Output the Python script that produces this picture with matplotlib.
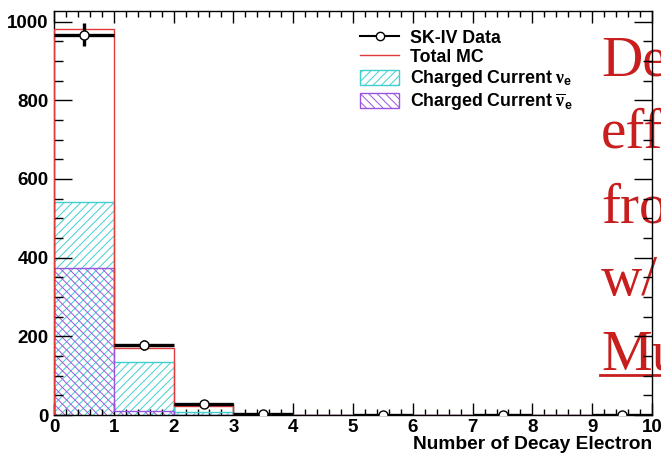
import numpy as np
import matplotlib
matplotlib.use("Agg")
import matplotlib.pyplot as plt
from matplotlib.lines import Line2D
from matplotlib.patches import Patch
from matplotlib.ticker import MultipleLocator

# ---- data ----
edges = [0, 1, 2, 3, 4, 5, 6, 7, 8, 9, 10]
data = [967, 178, 27, 3, np.nan, 0, np.nan, 0, np.nan, 0]
data_err = [30, 13, 5, 2, np.nan, 0, np.nan, 0, np.nan, 0]
total_mc = [982, 170, 23, 2, 0.6, 0.4, 0.3, 0.2, 0.1, 0.1]
cc_nue = [542, 135, 8, 1, 0.3, 0.2, 0.1, 0.1, 0.05, 0.05]    # drawn from 0 (nue + nuebar)
cc_nuebar = [374, 10, 1, 0.3, 0.1, 0.1, 0.05, 0.05, 0.02, 0.02]
overlay_words = ["De", "eff", "fro", "w/", "Mu"]

CYAN = "#3fcfcf"
PURPLE = "#9a55e0"
RED = "#e03a3a"
SLIDE_RED = "#c81e1e"

plt.rcParams["font.family"] = ["Liberation Sans", "DejaVu Sans"]
plt.rcParams["font.weight"] = "bold"
plt.rcParams["hatch.linewidth"] = 0.7
plt.rcParams["mathtext.fontset"] = "custom"
plt.rcParams["mathtext.rm"] = "Liberation Serif"
plt.rcParams["mathtext.it"] = "Liberation Serif"
plt.rcParams["mathtext.bf"] = "Liberation Sans:bold"

fig = plt.figure(figsize=(6.61, 4.59), dpi=100)
ax = fig.add_axes([54 / 661, 1 - 415 / 459, 598 / 661, 404 / 459])
ax.patch.set_alpha(0)

centers = [(a + b) / 2 for a, b in zip(edges[:-1], edges[1:])]

# hatched MC components
ax.stairs(cc_nue, edges, fill=True, facecolor="none", edgecolor=CYAN,
          hatch="////", linewidth=0, zorder=1)
ax.stairs(cc_nue, edges, color=CYAN, linewidth=1.0, zorder=2)
ax.stairs(cc_nuebar, edges, fill=True, facecolor="none", edgecolor=PURPLE,
          hatch="\\\\\\\\", linewidth=0, zorder=1)
ax.stairs(cc_nuebar, edges, color=PURPLE, linewidth=1.0, zorder=2)
ax.stairs(total_mc, edges, color=RED, linewidth=1.0, zorder=3)

# data
ax.errorbar(centers, data, xerr=0.5, yerr=data_err, fmt="o", color="black",
            mfc="white", mec="black", ms=6.5, mew=1.0, elinewidth=2.4,
            capsize=0, zorder=4)

ax.set_xlim(0, 10)
ax.set_ylim(0, 1027)
ax.xaxis.set_major_locator(MultipleLocator(1))
ax.xaxis.set_minor_locator(MultipleLocator(0.2))
ax.yaxis.set_major_locator(MultipleLocator(200))
ax.yaxis.set_minor_locator(MultipleLocator(50))
ax.tick_params(axis="both", which="both", direction="in", top=True, right=True,
               labelsize=13.5, width=1.0, colors="black")
ax.tick_params(axis="x", which="major", length=8.5, pad=3)
ax.tick_params(axis="x", which="minor", length=4.5)
ax.tick_params(axis="y", which="major", length=13, pad=4)
ax.tick_params(axis="y", which="minor", length=6.5)
for lab in ax.get_xticklabels() + ax.get_yticklabels():
    lab.set_fontweight("bold")
for s in ax.spines.values():
    s.set_linewidth(1.0)
ax.set_xlabel("Number of Decay Electron", fontsize=13.8, fontweight="bold",
              loc="right", labelpad=0)

handles = [
    Line2D([], [], color="black", lw=1.5, marker="o", mfc="white", mec="black", ms=6),
    Line2D([], [], color=RED, lw=1.0),
    Patch(facecolor="none", edgecolor=CYAN, hatch="////", lw=1.0),
    Patch(facecolor="none", edgecolor=PURPLE, hatch="\\\\\\\\", lw=1.0),
]
labels = ["SK-IV Data", "Total MC", r"Charged Current $\nu_{\mathbf{e}}$",
          r"Charged Current $\overline{\nu}_{\mathbf{e}}$"]
ax.legend(handles, labels, loc="upper left", bbox_to_anchor=(360 / 661, 1 - 29 / 459),
          bbox_transform=fig.transFigure, frameon=False, fontsize=12.8,
          handlelength=2.2, handleheight=0.9, handletextpad=0.6,
          labelspacing=0.12, borderaxespad=0, borderpad=0)

# red slide text bleeding in from the right
baselines = [75, 148, 222, 295, 370]
for word, yb in zip(overlay_words, baselines):
    fig.text(601 / 661, 1 - yb / 459, word, family=["Liberation Serif", "DejaVu Serif"],
             fontweight="normal", fontsize=41, color=SLIDE_RED, va="baseline",
             ha="left", zorder=-1)
fig.add_artist(Line2D([600 / 661, 1.0], [1 - 375 / 459] * 2, color=SLIDE_RED,
                      lw=2.0, transform=fig.transFigure, zorder=-1))

fig.savefig("out.png", dpi=100)
